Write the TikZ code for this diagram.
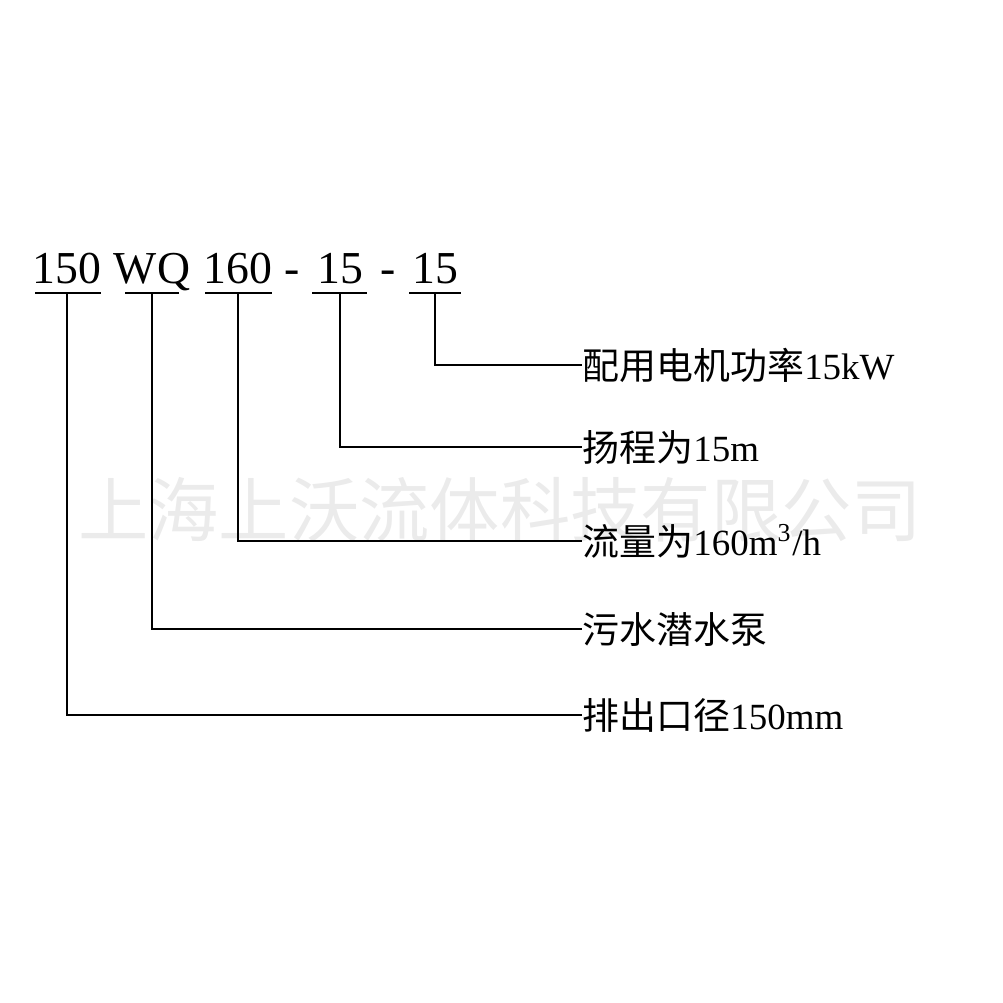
\documentclass[tikz,border=0pt]{standalone}
\usepackage{fontspec}
\setmainfont{Liberation Serif}
\newfontfamily\cjk{Noto Sans CJK SC}
\begin{document}
\begin{tikzpicture}[x=0.01cm,y=-0.01cm,
  code/.style={font=\fontsize{13}{14}\selectfont, inner sep=0pt, anchor=base},
  lab/.style={font=\cjk\fontsize{10.5}{12}\selectfont, inner sep=0pt, anchor=west},
  ln/.style={line width=0.8pt}]
\useasboundingbox (0,0) rectangle (1003,1003);
\node[font=\cjk\fontsize{20}{22}\selectfont, text=black!8, inner sep=0pt] (wm) at (500,510) {上海上沃流体科技有限公司};
\node[code] (a) at (67,283) {150};
\node[code] (b) at (152,283) {WQ};
\node[code] (c) at (238,283) {160};
\node[code] (d1) at (292,283) {-};
\node[code] (d) at (340,283) {15};
\node[code] (d2) at (388,283) {-};
\node[code] (e) at (435,283) {15};
\coordinate (au) at (67,293); \coordinate (bu) at (152,293); \coordinate (cu) at (238,293);
\coordinate (du) at (340,293); \coordinate (eu) at (435,293);
\draw[ln] (35,293) -- (101,293);
\draw[ln] (125,293) -- (179,293);
\draw[ln] (205,293) -- (272,293);
\draw[ln] (312,293) -- (367,293);
\draw[ln] (409,293) -- (461,293);
\node[lab] (le) at (582,365) {配用电机功率\fontspec{Liberation Serif}15kW};
\node[lab] (ld) at (582,447) {扬程为\fontspec{Liberation Serif}15m};
\node[lab] (lc) at (582,541) {流量为\fontspec{Liberation Serif}160m\textsuperscript{3}/h};
\node[lab] (lb) at (582,629) {污水潜水泵};
\node[lab] (la) at (582,715) {排出口径\fontspec{Liberation Serif}150mm};
\draw[ln] (eu) |- (le.west);
\draw[ln] (du) |- (ld.west);
\draw[ln] (cu) |- (lc.west);
\draw[ln] (bu) |- (lb.west);
\draw[ln] (au) |- (la.west);
\end{tikzpicture}
\end{document}
